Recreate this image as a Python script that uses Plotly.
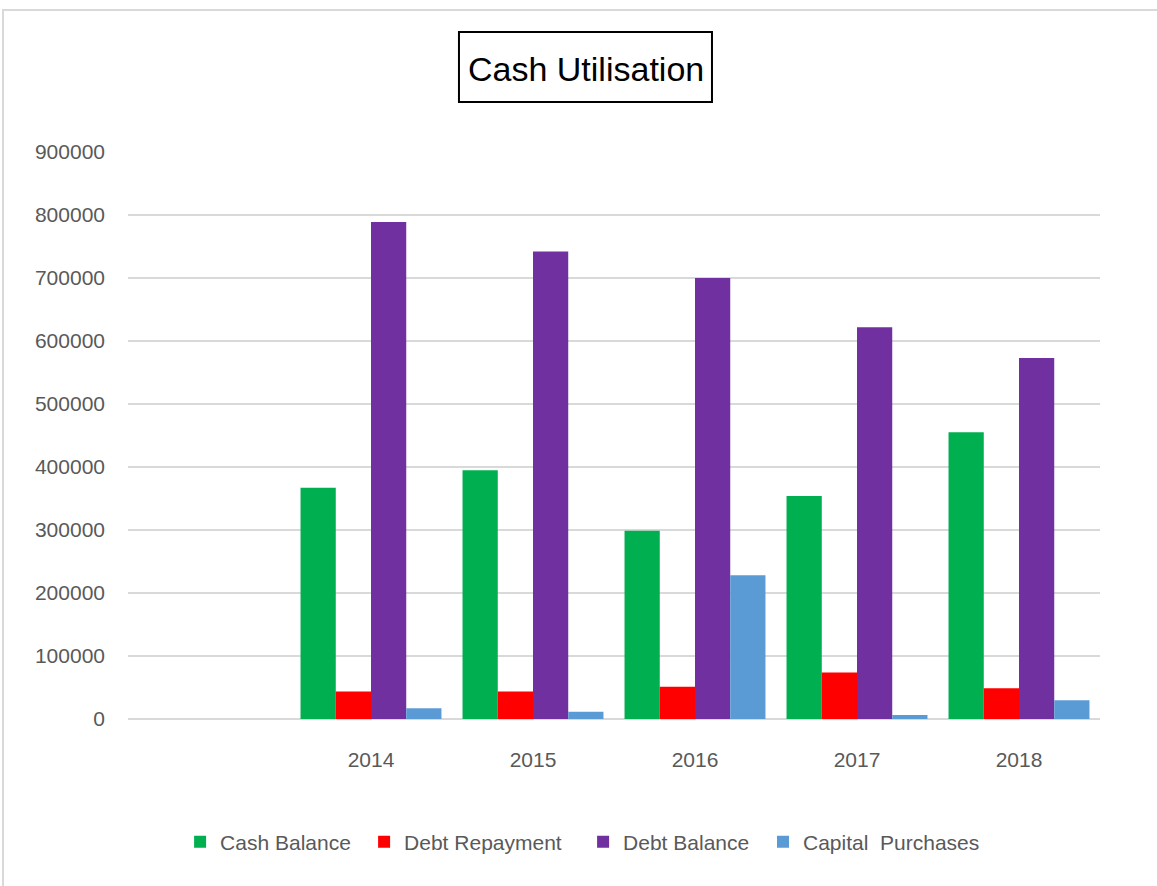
import plotly.graph_objects as go

categories = ["", "2014", "2015", "2016", "2017", "2018"]
cash_balance = [None, 367000, 395000, 299000, 354000, 455000]
debt_repayment = [None, 43500, 43500, 51000, 74000, 48700]
debt_balance = [None, 789000, 742000, 700000, 622000, 573000]
capital_purchases = [None, 17000, 11600, 228000, 6500, 29600]
y_ticks = [0, 100000, 200000, 300000, 400000, 500000, 600000, 700000, 800000, 900000]

series = [
    ("Cash Balance", cash_balance, "#00b050"),
    ("Debt Repayment", debt_repayment, "#ff0000"),
    ("Debt Balance", debt_balance, "#7030a0"),
    ("Capital  Purchases", capital_purchases, "#5b9bd5"),
]

FONT = "Liberation Sans, Arial, sans-serif"
legend_ids = ["legend", "legend2", "legend3", "legend4"]
legend_x = [0.0536, 0.2429, 0.4682, 0.6533]

xpos = list(range(len(categories)))
fig = go.Figure()
for (name, vals, color), lid in zip(series, legend_ids):
    fig.add_trace(go.Bar(x=xpos, y=vals, name=name, legend=lid,
                         marker=dict(color=color, line=dict(width=0))))

legend_layout = {}
for lid, lx in zip(legend_ids, legend_x):
    legend_layout[lid] = dict(orientation="h", x=lx, xanchor="left", y=-0.217, yanchor="middle",
                              font=dict(family=FONT, size=21, color="#595959"),
                              bgcolor="rgba(0,0,0,0)")

fig.update_layout(
    width=1157, height=886,
    margin=dict(l=128, r=57, t=152, b=167),
    paper_bgcolor="white", plot_bgcolor="white",
    barmode="group", bargap=0.13, bargroupgap=0,
    showlegend=True,
    xaxis=dict(tickmode="array", tickvals=xpos, ticktext=categories, range=[-0.5, 5.5],
               showgrid=False, zeroline=False, showline=False, ticks="",
               tickfont=dict(family=FONT, size=21, color="#595959"),
               ticklabelstandoff=26),
    yaxis=dict(range=[0, 900000], tickmode="array", tickvals=y_ticks,
               ticktext=[str(v) for v in y_ticks],
               showgrid=True, gridcolor="#d9d9d9", gridwidth=2,
               zeroline=True, zerolinecolor="#d9d9d9", zerolinewidth=2,
               showline=False, ticks="",
               tickfont=dict(family=FONT, size=21, color="#595959"),
               ticklabelstandoff=22),
    shapes=[
        dict(type="rect", xref="paper", yref="paper", x0=0.3405, x1=0.6008, y0=1.0882, y1=1.2116,
             line=dict(color="black", width=2), fillcolor="rgba(0,0,0,0)"),
        dict(type="rect", xref="paper", yref="paper", x0=-0.1286, x1=1.08, y0=-0.3, y1=1.2504,
             line=dict(color="#d9d9d9", width=2), fillcolor="rgba(0,0,0,0)", layer="below"),
    ],
    annotations=[
        dict(text="Cash Utilisation", xref="paper", yref="paper", x=0.4707, y=1.147,
             xanchor="center", yanchor="middle", showarrow=False,
             font=dict(family=FONT, size=34, color="black")),
    ],
    **legend_layout,
)

fig.write_html("out.html", config={"displayModeBar": False},
               post_script="document.body.style.margin='0';")
